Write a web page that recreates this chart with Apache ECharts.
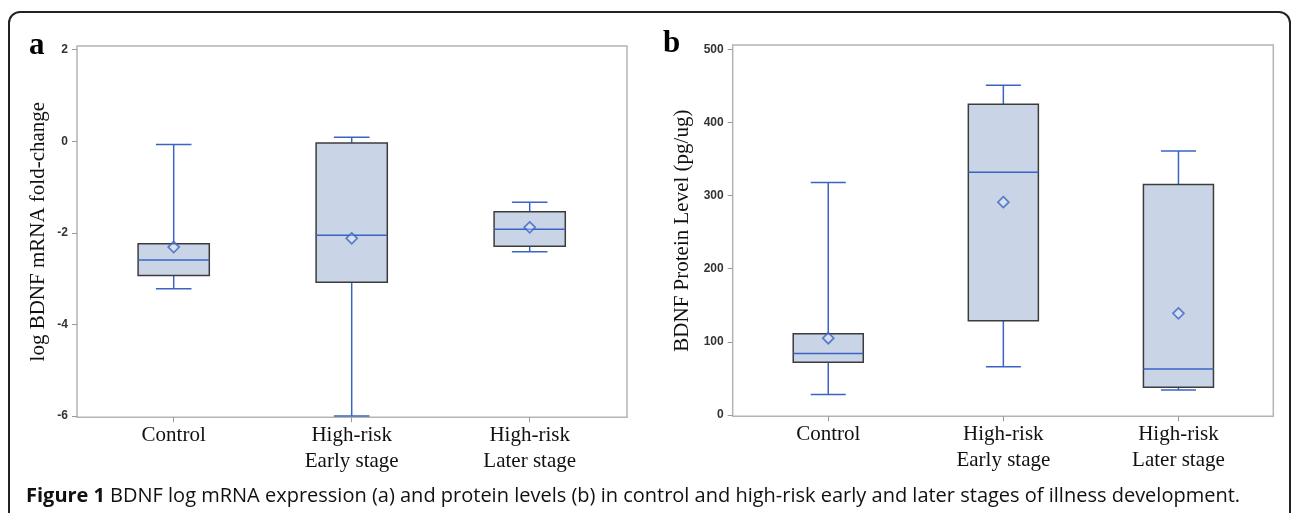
<!DOCTYPE html>
<html>
<head>
<meta charset="utf-8">
<script src="https://cdn.jsdelivr.net/npm/echarts@6/dist/echarts.min.js"></script>
<style>
html,body{margin:0;padding:0;background:#fff;}
#main{width:1292px;height:513px;}
</style>
</head>
<body>
<div id="main"></div>
<script>
// ---- data ----
const categories = ['Control', 'High-risk\nEarly stage', 'High-risk\nLater stage'];
// [low whisker, Q1, median, Q3, high whisker]
const mrnaBox = [
  [-3.22, -2.93, -2.59, -2.24, -0.07],
  [-6.00, -3.08, -2.05, -0.04, 0.09],
  [-2.41, -2.29, -1.92, -1.54, -1.33]
];
const mrnaMean = [-2.31, -2.12, -1.88];
const proteinBox = [
  [28, 72, 84, 111, 318],
  [66, 129, 332, 425, 451],
  [34, 38, 63, 315, 361]
];
const proteinMean = [105, 291, 139];
const mrnaTicks = [-6, -4, -2, 0, 2];
const proteinTicks = [0, 100, 200, 300, 400, 500];

const BLUE = '#3b63c4';
const FILL = '#c9d5e6';
const EDGE = '#3c3c3c';
const FRAME = '#b4b4b4';

function boxRows(box) {
  return box.map((b, i) => [i].concat(b));
}

function renderBox(params, api) {
  const x = api.value(0);
  const low = api.coord([x, api.value(1)]);
  const q1 = api.coord([x, api.value(2)]);
  const med = api.coord([x, api.value(3)]);
  const q3 = api.coord([x, api.value(4)]);
  const high = api.coord([x, api.value(5)]);
  const band = api.size([1, 0])[0];
  const bw = band * 0.4;
  const cw = band * 0.2;
  const cx = med[0];
  const ls = {stroke: BLUE, lineWidth: 1.5};
  return {
    type: 'group',
    children: [
      {type: 'line', shape: {x1: cx, y1: high[1], x2: cx, y2: q3[1]}, style: ls},
      {type: 'line', shape: {x1: cx, y1: q1[1], x2: cx, y2: low[1]}, style: ls},
      {type: 'line', shape: {x1: cx - cw / 2, y1: high[1], x2: cx + cw / 2, y2: high[1]}, style: ls},
      {type: 'line', shape: {x1: cx - cw / 2, y1: low[1], x2: cx + cw / 2, y2: low[1]}, style: ls},
      {type: 'rect', shape: {x: cx - bw / 2, y: q3[1], width: bw, height: q1[1] - q3[1]},
        style: {fill: FILL, stroke: EDGE, lineWidth: 1.5}},
      {type: 'line', shape: {x1: cx - bw / 2, y1: med[1], x2: cx + bw / 2, y2: med[1]}, style: ls}
    ]
  };
}

const serif = "'Liberation Serif', 'DejaVu Serif', serif";
const sans = "'Liberation Sans', Arial, sans-serif";
const capFont = "'Open Sans', 'Liberation Sans', sans-serif";

function frameY(gridIndex, min, max, ticks, name, nameGap) {
  return {
    gridIndex: gridIndex, type: 'value', min: min, max: max,
    axisLine: {show: false},
    splitLine: {show: false},
    axisTick: {show: true, length: 5, customValues: ticks, lineStyle: {color: '#999', width: 1}},
    axisLabel: {customValues: ticks, fontSize: 12, color: '#333', fontFamily: sans, fontWeight: 'bold', margin: 9},
    name: name, nameLocation: 'middle', nameGap: nameGap,
    nameTextStyle: {fontFamily: serif, fontSize: 21, color: '#111'}
  };
}
function dataY(gridIndex, min, max) {
  return {gridIndex: gridIndex, type: 'value', min: min, max: max, show: false, splitLine: {show: false}};
}
function dataX(gridIndex) {
  return {
    gridIndex: gridIndex, type: 'category', data: categories, boundaryGap: true,
    axisLine: {show: false, onZero: false},
    axisTick: {show: true, alignWithLabel: true, length: 5, lineStyle: {color: '#999'}},
    axisLabel: {fontFamily: serif, fontSize: 21, color: '#111', lineHeight: 26, margin: 5, interval: 0},
    splitLine: {show: false}
  };
}

const option = {
  animation: false,
  backgroundColor: '#fff',
  title: [
    {text: 'a', left: 24, top: 25, textStyle: {fontFamily: serif, fontSize: 31, fontWeight: 'bold', color: '#000'}},
    {text: 'b', left: 658, top: 23, textStyle: {fontFamily: serif, fontSize: 31, fontWeight: 'bold', color: '#000'}},
    {
      text: '{b|Figure 1} {r|BDNF log mRNA expression (a) and protein levels (b) in control and high-risk early and later stages of illness development.}',
      left: 21, top: 481,
      textStyle: {
        fontWeight: 'normal',
        rich: {
          b: {fontFamily: capFont, fontSize: 20, fontWeight: 'bold', color: '#111'},
          r: {fontFamily: capFont, fontSize: 20, fontWeight: 'normal', color: '#111'}
        }
      }
    }
  ],
  graphic: [
    {type: 'rect', shape: {x: 9, y: 12, width: 1281, height: 540, r: 11},
      style: {fill: 'none', stroke: '#222', lineWidth: 2}, silent: true, z: -1}
  ],
  grid: [
    {left: 77, top: 46, width: 550, height: 371.3, show: true, borderColor: FRAME, borderWidth: 1.5, backgroundColor: 'transparent'},
    {left: 84.7, top: 46, width: 534, height: 371.3},
    {left: 732.7, top: 45, width: 540.6, height: 371.3, show: true, borderColor: FRAME, borderWidth: 1.5, backgroundColor: 'transparent'},
    {left: 740.7, top: 45, width: 525.3, height: 371.3}
  ],
  xAxis: [
    {gridIndex: 0, type: 'value', show: false, min: 0, max: 1, splitLine: {show: false}},
    dataX(1),
    {gridIndex: 2, type: 'value', show: false, min: 0, max: 1, splitLine: {show: false}},
    dataX(3)
  ],
  yAxis: [
    frameY(0, -6.028, 2.081, mrnaTicks, 'log BDNF mRNA fold-change', 28),
    dataY(1, -6.028, 2.081),
    frameY(2, -1.8, 505.9, proteinTicks, 'BDNF Protein Level (pg/ug)', 40),
    dataY(3, -1.8, 505.9)
  ],
  series: [
    {type: 'custom', xAxisIndex: 1, yAxisIndex: 1, renderItem: renderBox,
      encode: {x: 0, y: [1, 2, 3, 4, 5]}, data: boxRows(mrnaBox), z: 2},
    {type: 'scatter', xAxisIndex: 1, yAxisIndex: 1, symbol: 'diamond', symbolSize: 11,
      itemStyle: {color: 'rgba(255,255,255,0.35)', borderColor: BLUE, borderWidth: 1.7},
      data: mrnaMean.map((v, i) => [i, v]), z: 3},
    {type: 'custom', xAxisIndex: 3, yAxisIndex: 3, renderItem: renderBox,
      encode: {x: 0, y: [1, 2, 3, 4, 5]}, data: boxRows(proteinBox), z: 2},
    {type: 'scatter', xAxisIndex: 3, yAxisIndex: 3, symbol: 'diamond', symbolSize: 11,
      itemStyle: {color: 'rgba(255,255,255,0.35)', borderColor: BLUE, borderWidth: 1.7},
      data: proteinMean.map((v, i) => [i, v]), z: 3}
  ]
};

const chart = echarts.init(document.getElementById('main'), null, {renderer: 'canvas'});
chart.setOption(option);
</script>
</body>
</html>
